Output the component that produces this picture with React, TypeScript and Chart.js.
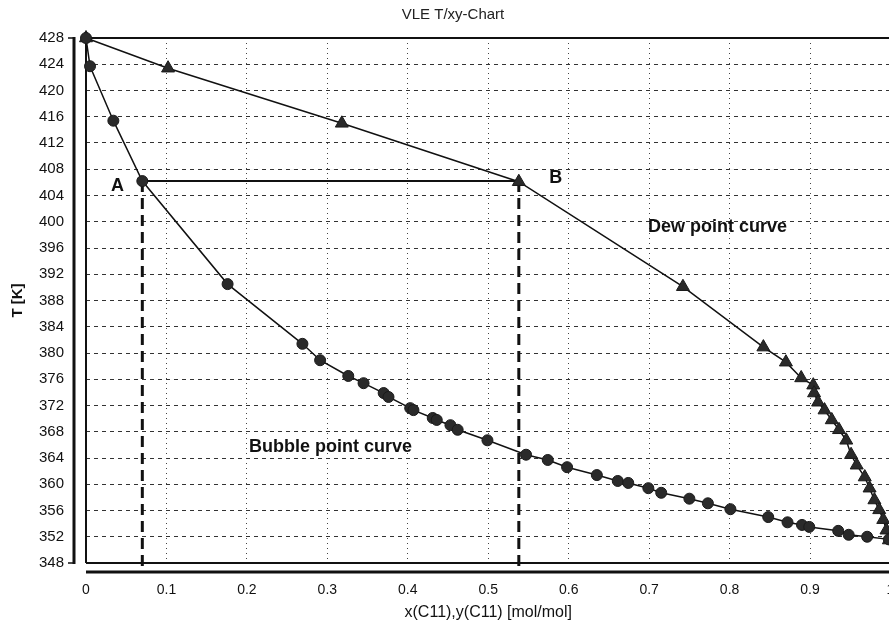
import React, { useEffect, useRef } from 'react';
import { Chart, registerables } from 'chart.js';

Chart.register(...registerables);

const TITLE = 'VLE T/xy-Chart';
const X_LABEL = 'x(C11),y(C11) [mol/mol]';
const Y_LABEL = 'T [K]';

// Bubble point curve (liquid, circles)
const bubbleX = [0, 0.005, 0.034, 0.07, 0.176, 0.269, 0.291, 0.326, 0.345, 0.37, 0.376, 0.403, 0.407, 0.431, 0.436, 0.453, 0.462, 0.499, 0.547, 0.574, 0.598, 0.635, 0.661, 0.674, 0.699, 0.715, 0.75, 0.773, 0.801, 0.848, 0.872, 0.89, 0.899, 0.935, 0.948, 0.971, 0.998];
const bubbleT = [428, 423.7, 415.4, 406.2, 390.5, 381.4, 378.9, 376.5, 375.4, 373.9, 373.3, 371.6, 371.3, 370.1, 369.8, 369.0, 368.3, 366.7, 364.5, 363.7, 362.6, 361.4, 360.5, 360.2, 359.4, 358.7, 357.8, 357.1, 356.2, 355.0, 354.2, 353.8, 353.5, 352.9, 352.3, 352.0, 351.6];

// Dew point curve (vapour, triangles)
const dewX = [0, 0.102, 0.318, 0.538, 0.742, 0.842, 0.87, 0.889, 0.904, 0.905, 0.91, 0.918, 0.927, 0.936, 0.945, 0.951, 0.958, 0.968, 0.974, 0.98, 0.986, 0.991, 0.995, 0.998];
const dewT = [428, 423.4, 415.0, 406.1, 390.1, 380.9, 378.6, 376.2, 375.1, 373.9, 372.5, 371.3, 369.8, 368.3, 366.7, 364.5, 362.9, 361.1, 359.4, 357.6, 356.1, 354.6, 353.0, 351.5];

// Tie line A-B and drop lines
const tieX = [0.07, 0.538];
const tieT = 406.2;
const dropBottomT = 347.25;

// Annotations
const noteText = ['A', 'B', 'Dew point curve', 'Bubble point curve'];
const noteX = [0.039, 0.584, 0.785, 0.304];
const noteT = [405.4, 406.7, 399.2, 365.7];

const FONT = '"Liberation Sans", Arial, sans-serif';

export default function App() {
  const ref = useRef<HTMLCanvasElement | null>(null);

  useEffect(() => {
    const canvas = ref.current;
    if (!canvas) return;

    const decor = {
      id: 'decor',
      beforeDatasetsDraw(chart: any) {
        const { ctx, chartArea } = chart;
        const { left, right, top, bottom } = chartArea;
        ctx.save();
        ctx.strokeStyle = '#111';
        ctx.lineCap = 'butt';
        ctx.lineWidth = 2;
        ctx.beginPath();
        ctx.moveTo(left, bottom);
        ctx.lineTo(left, top);
        ctx.lineTo(right + 2, top);
        ctx.moveTo(left, bottom);
        ctx.lineTo(right + 2, bottom);
        ctx.stroke();
        ctx.lineWidth = 3;
        ctx.beginPath();
        ctx.moveTo(left - 12, top - 1);
        ctx.lineTo(left - 12, bottom + 1);
        ctx.moveTo(left, bottom + 9);
        ctx.lineTo(right + 2, bottom + 9);
        ctx.stroke();
        ctx.lineWidth = 1.5;
        ctx.beginPath();
        ctx.moveTo(left - 18, top);
        ctx.lineTo(left - 12, top);
        ctx.moveTo(left - 18, bottom);
        ctx.lineTo(left - 12, bottom);
        ctx.stroke();
        ctx.restore();
      },
      afterDatasetsDraw(chart: any) {
        const { ctx, scales } = chart;
        ctx.save();
        ctx.fillStyle = '#111';
        ctx.textAlign = 'center';
        ctx.textBaseline = 'middle';
        noteText.forEach((t, i) => {
          ctx.font = `bold 18px ${FONT}`;
          ctx.fillText(t, scales.x.getPixelForValue(noteX[i]), scales.y.getPixelForValue(noteT[i]));
        });
        ctx.font = `15px ${FONT}`;
        ctx.fillStyle = '#222';
        ctx.fillText(TITLE, 453, 15);
        ctx.restore();
      },
    };

    const chart = new Chart(canvas, {
      type: 'scatter',
      data: {
        datasets: [
          {
            label: 'Bubble point curve',
            data: bubbleX.map((x, i) => ({ x, y: bubbleT[i] })),
            showLine: true,
            borderColor: '#111',
            borderWidth: 1.5,
            pointStyle: 'circle',
            pointRadius: 5.5,
            pointBackgroundColor: '#2a2a2a',
            pointBorderColor: '#1a1a1a',
            pointBorderWidth: 1,
            order: 0,
            clip: false as any,
          },
          {
            label: 'Dew point curve',
            data: dewX.map((x, i) => ({ x, y: dewT[i] })),
            showLine: true,
            borderColor: '#111',
            borderWidth: 1.5,
            pointStyle: 'triangle',
            pointRadius: 7.5,
            pointBackgroundColor: '#2a2a2a',
            pointBorderColor: '#1a1a1a',
            pointBorderWidth: 1,
            order: 0,
            clip: false as any,
          },
          {
            label: 'Tie line',
            data: tieX.map((x) => ({ x, y: tieT })),
            showLine: true,
            borderColor: '#111',
            borderWidth: 2,
            pointRadius: 0,
            order: 1,
          },
          {
            label: 'Drop A',
            data: [{ x: tieX[0], y: tieT }, { x: tieX[0], y: dropBottomT }],
            showLine: true,
            borderColor: '#111',
            borderWidth: 3,
            borderDash: [11, 6],
            pointRadius: 0,
            order: 1,
            clip: false as any,
          },
          {
            label: 'Drop B',
            data: [{ x: tieX[1], y: tieT }, { x: tieX[1], y: dropBottomT }],
            showLine: true,
            borderColor: '#111',
            borderWidth: 3,
            borderDash: [11, 6],
            pointRadius: 0,
            order: 1,
            clip: false as any,
          },
        ],
      },
      options: {
        animation: false,
        responsive: false,
        maintainAspectRatio: false,
        layout: { padding: { top: 38, right: 1, left: 0, bottom: 0 } },
        plugins: {
          legend: { display: false },
          title: { display: false },
          tooltip: { enabled: false },
        },
        scales: {
          x: {
            type: 'linear',
            min: 0,
            max: 1,
            afterFit: (s: any) => { s.height = 65; s.paddingLeft = 0; s.paddingRight = 0; },
            ticks: {
              stepSize: 0.1,
              padding: 19,
              color: '#111',
              font: { family: FONT, size: 14 },
              maxRotation: 0,
              autoSkip: false,
              callback: (v: any) => String(Math.round(Number(v) * 10) / 10),
            },
            grid: {
              color: '#444',
              lineWidth: 1,
              drawTicks: false,
            },
            border: { display: false, dash: [1, 4] },
            title: {
              display: true,
              text: X_LABEL,
              color: '#111',
              font: { family: FONT, size: 16 },
              padding: { top: 0, bottom: 6 },
            },
          } as any,
          y: {
            type: 'linear',
            min: 348,
            max: 428,
            afterFit: (s: any) => { s.width = 86; s.paddingTop = 0; s.paddingBottom = 0; },
            ticks: {
              stepSize: 4,
              padding: 22,
              color: '#111',
              font: { family: FONT, size: 15 },
              autoSkip: false,
            },
            grid: {
              color: '#333',
              lineWidth: 1,
              drawTicks: false,
            },
            border: { display: false, dash: [4, 4] },
            title: {
              display: true,
              text: Y_LABEL,
              color: '#111',
              font: { family: FONT, size: 15, weight: 'bold' },
              padding: { top: 9, bottom: 0 },
            },
          } as any,
        },
      },
      plugins: [decor],
    });

    return () => chart.destroy();
  }, []);

  return (
    <div style={{ position: 'absolute', left: 0, top: 0, width: 889, height: 628, overflow: 'hidden', background: '#fff' }}>
      <canvas ref={ref} width={899} height={628} style={{ width: 899, height: 628, display: 'block' }} />
    </div>
  );
}
